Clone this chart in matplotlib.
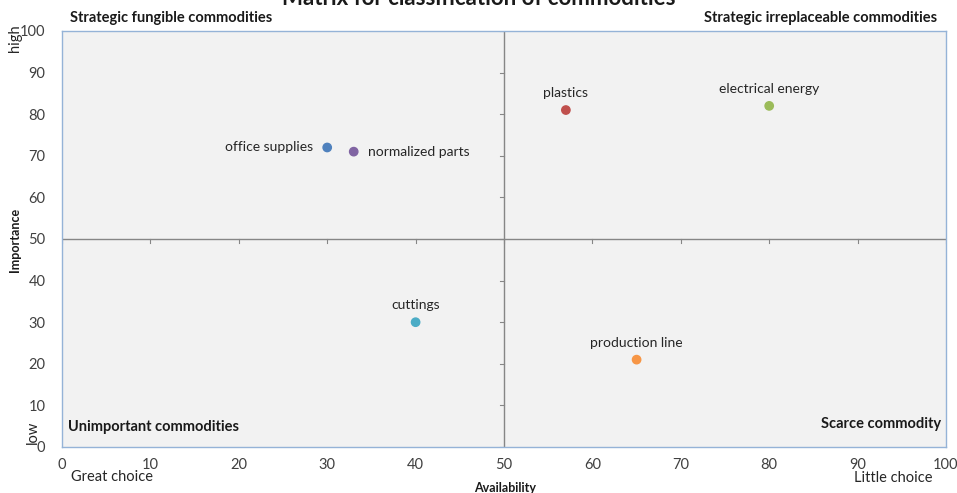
import matplotlib
matplotlib.use("Agg")
import matplotlib.pyplot as plt

plt.rcParams['font.family'] = ['Lato', 'DejaVu Sans']

# Commodities positioned by availability (x) and importance (y)
names = ["office supplies", "normalized parts", "plastics",
         "electrical energy", "cuttings", "production line"]
availability = [30, 33, 57, 80, 40, 65]
importance = [72, 71, 81, 82, 30, 21]
colors = ["#4F81BD", "#8064A2", "#C0504D", "#9BBB59", "#4BACC6", "#F79646"]
# where each label sits relative to its point
label_pos = ["left", "right", "above", "above", "above", "above"]

ticks = [0, 10, 20, 30, 40, 50, 60, 70, 80, 90, 100]

fig = plt.figure(figsize=(9.57, 4.93), dpi=100)
ax = fig.add_axes([62 / 957, 1 - 447 / 493, 884 / 957, 416 / 493])
ax.set_facecolor("#F2F2F2")
ax.set_xlim(0, 100)
ax.set_ylim(0, 100)
for s in ax.spines.values():
    s.set_color("#95B3D7")
    s.set_linewidth(1.0)

ax.set_xticks(ticks)
ax.set_yticks(ticks)
ax.tick_params(length=0, labelsize=10.5, colors="#404040", pad=8)
ax.tick_params(axis="y", pad=12)

# quadrant dividers with small tick marks
ax.axvline(50, color="#868686", lw=1.0, zorder=1)
ax.axhline(50, color="#868686", lw=1.0, zorder=1)
for t in ticks:
    ax.plot([49.6, 50], [t, t], color="#868686", lw=0.8, zorder=1)
    ax.plot([t, t], [50, 49.0], color="#868686", lw=0.8, zorder=1)

ax.scatter(availability, importance, s=36, c=colors, zorder=3)

for n, x, y, p in zip(names, availability, importance, label_pos):
    if p == "left":
        ax.annotate(n, (x, y), xytext=(-10, 0), textcoords="offset points",
                    ha="right", va="center", fontsize=10, color="#262626")
    elif p == "right":
        ax.annotate(n, (x, y), xytext=(10, 0), textcoords="offset points",
                    ha="left", va="center", fontsize=10, color="#262626")
    else:
        ax.annotate(n, (x, y), xytext=(0, 8), textcoords="offset points",
                    ha="center", va="bottom", fontsize=10, color="#262626")

def px(x, y):
    return x / 957, 1 - y / 493

# quadrant titles
fig.text(*px(70, 18), "Strategic fungible commodities", fontsize=10.5,
         fontweight="bold", ha="left", va="center", color="#1a1a1a")
fig.text(*px(937, 18), "Strategic irreplaceable commodities", fontsize=10.5,
         fontweight="bold", ha="right", va="center", color="#1a1a1a")
fig.text(*px(68, 427), "Unimportant commodities", fontsize=10.5,
         fontweight="bold", ha="left", va="center", color="#1a1a1a")
fig.text(*px(941, 424), "Scarce commodity", fontsize=10.5,
         fontweight="bold", ha="right", va="center", color="#1a1a1a")

# axis captions
fig.text(*px(479, 5), "Matrix for classification of commodities", fontsize=16,
         fontweight="bold", ha="center", va="baseline", color="#1a1a1a")
fig.text(*px(505, 488), "Availability", fontsize=9, fontweight="bold",
         ha="center", va="center", color="#1a1a1a")
fig.text(*px(15, 240), "Importance", fontsize=9, fontweight="bold",
         ha="center", va="center", rotation=90, color="#1a1a1a")
fig.text(*px(15, 38), "high", fontsize=10.5, ha="center", va="center",
         rotation=90, color="#262626")
fig.text(*px(33, 432), "low", fontsize=10.5, ha="center", va="center",
         rotation=90, color="#262626")
fig.text(*px(112, 477), "Great choice", fontsize=10.5, ha="center",
         va="center", color="#262626")
fig.text(*px(893, 478), "Little choice", fontsize=10.5, ha="center",
         va="center", color="#262626")

fig.savefig("out.png", dpi=100)
